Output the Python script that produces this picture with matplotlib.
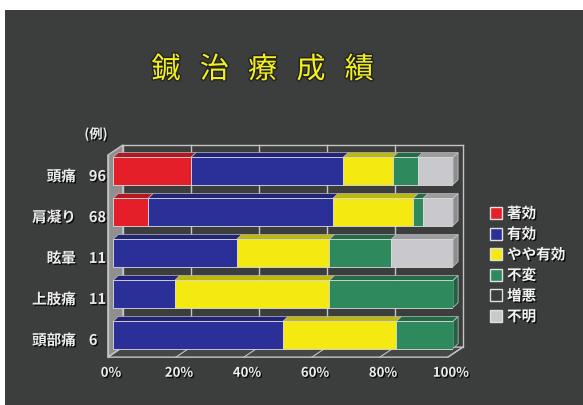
import matplotlib.pyplot as plt
import matplotlib.patheffects as pe
from matplotlib.patches import Polygon, Rectangle
import numpy as np

plt.rcParams['font.family'] = ['Noto Sans CJK JP', 'DejaVu Sans']

# data (cases per symptom and result)
categories = ['頭痛', '肩凝り', '眩暈', '上肢痛', '頭部痛']
cases = [96, 68, 11, 11, 6]
series = ['著効', '有効', 'やや有効', '不変', '増悪', '不明']
counts = np.array([
    [22, 43, 14, 7, 0, 10],
    [7, 37, 16, 2, 0, 6],
    [0, 4, 3, 2, 0, 2],
    [0, 2, 5, 4, 0, 0],
    [0, 3, 2, 1, 0, 0],
], dtype=float)
colors = ['#e41f2a', '#2b2f98', '#f4ea12', '#2e8a5c', '#ffffff', '#c9c9cd']
xticks = [0, 20, 40, 60, 80, 100]
title = '鍼治療成績'

bg = '#3b3e3c'
line_c = '#c4c4c4'

pct = counts / counts.sum(axis=1, keepdims=True) * 100

fig = plt.figure(figsize=(5.83, 4.05), dpi=100)
fig.patch.set_facecolor('white')
fig.add_artist(Rectangle((5 / 583, 0), 1, 1 - 10 / 405, transform=fig.transFigure,
                         facecolor=bg, edgecolor='none', zorder=0))

ax = fig.add_axes([113 / 583, 1 - 369.85 / 405, 340 / 583, 0.577])
ax.set_xlim(0, 100)
ax.set_ylim(4.85, -0.85)
ax.axis('off')

# 3d box
fx0, fx1 = -1.5, 98.5
bx, by = 4.4, -0.245
ftop, fbot = -0.39, 4.54

ax.add_patch(Polygon([(fx0, ftop), (fx0 + bx, ftop + by), (fx0 + bx, fbot + by), (fx0, fbot)],
                     closed=True, facecolor='#8e8f8e', edgecolor=line_c, lw=1, zorder=1, clip_on=False))
ax.add_patch(Polygon([(fx0, fbot), (fx1, fbot), (fx1 + bx, fbot + by), (fx0 + bx, fbot + by)],
                     closed=True, facecolor='#444745', edgecolor=line_c, lw=1, zorder=1, clip_on=False))
for t in xticks:
    gx = fx0 + bx + t
    ax.plot([gx, gx], [ftop + by, fbot + by], color=line_c, lw=1, zorder=1, clip_on=False)
    ax.plot([fx0 + t, fx0 + bx + t], [fbot, fbot + by], color=line_c, lw=0.8, zorder=1, clip_on=False)
ax.plot([fx0 + bx, fx1 + bx], [ftop + by, ftop + by], color=line_c, lw=1, zorder=1, clip_on=False)
ax.plot([fx0, fx0], [ftop, fbot], color=line_c, lw=1, zorder=1, clip_on=False)

# bars
h = 0.66
dx, dy = 1.5, -0.12


def shade(c, f):
    r, g, b = plt.matplotlib.colors.to_rgb(c)
    return (r * f, g * f, b * f)


for i, row in enumerate(pct):
    left = 0
    last = None
    for j, v in enumerate(row):
        if v <= 0:
            continue
        ax.barh(i, v, left=left, height=h, color=colors[j], edgecolor='#dcdcdc', lw=0.6, zorder=3)
        yt = i - h / 2
        ax.add_patch(Polygon([(left, yt), (left + v, yt), (left + v + dx, yt + dy), (left + dx, yt + dy)],
                             closed=True, facecolor=shade(colors[j], 0.78), edgecolor='#bdbdbd',
                             lw=0.5, zorder=2.5, clip_on=False))
        left += v
        last = j
    xr = left
    ax.add_patch(Polygon([(xr, i - h / 2), (xr + dx, i - h / 2 + dy), (xr + dx, i + h / 2 + dy), (xr, i + h / 2)],
                         closed=True, facecolor=shade(colors[last], 0.7), edgecolor='#d0d0d0',
                         lw=0.5, zorder=2.5, clip_on=False))

# labels
lab_fx = [pe.withSimplePatchShadow(offset=(1, -1), shadow_rgbFace='black', alpha=0.8)]
for i, (name, n) in enumerate(zip(categories, cases)):
    ax.text(-10.9, i + 0.12, name, ha='right', va='center', fontsize=10.5, fontweight='bold',
            color='#ececec', clip_on=False, path_effects=lab_fx)
    ax.text(-7.1, i + 0.12, str(n), ha='left', va='center', fontsize=10.5, fontweight='bold',
            color='#ececec', clip_on=False, path_effects=lab_fx)
ax.text(-5, -0.9, '(例)', ha='center', va='center', fontsize=9.5, fontweight='bold',
        color='#ececec', clip_on=False, path_effects=lab_fx)

for t in xticks:
    ax.text(t - 0.6, 4.92, f'{t}%', ha='center', va='center', fontsize=9.5, fontweight='bold',
            color='#ececec', clip_on=False, path_effects=lab_fx)

# title
for k, ch in enumerate(title):
    fig.text((166 + 48.3 * k) / 583, 1 - 70 / 405, ch, ha='center', va='center', fontsize=21,
             color='#f3f01e', path_effects=[pe.withStroke(linewidth=2, foreground='#222222')])

# legend
for k, (name, c) in enumerate(zip(series, colors)):
    yc = 213 + 20.6 * k
    face = bg if name == '増悪' else c
    fig.add_artist(Rectangle((490 / 583, 1 - (yc + 6) / 405), 12 / 583, 12 / 405,
                             transform=fig.transFigure, facecolor=face, edgecolor='#e0e0e0', lw=1))
    fig.text(507 / 583, 1 - yc / 405, name, ha='left', va='center', fontsize=10.5,
             fontweight='bold', color='#f2f2f2', path_effects=lab_fx)

fig.savefig('out.png', dpi=100, facecolor=fig.get_facecolor())
